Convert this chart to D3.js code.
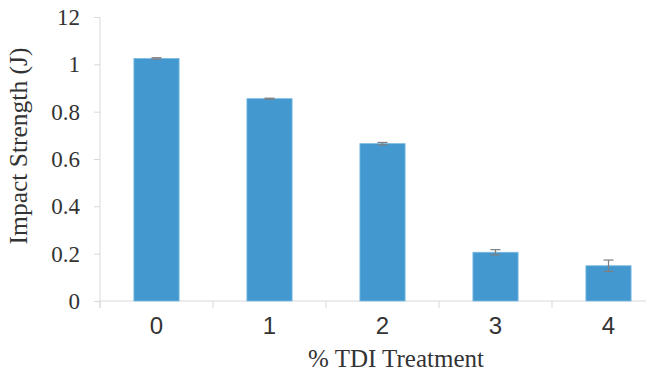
<!DOCTYPE html>
<html>
<head>
<meta charset="utf-8">
<script src="https://cdn.jsdelivr.net/npm/d3@7"></script>
<style>
  body { margin: 0; background: #fff; }
  svg { display: block; }
</style>
</head>
<body>
<div id="chart"></div>
<script>
// data
var categories = ["0", "1", "2", "3", "4"];
var impact = [1.025, 0.855, 0.665, 0.206, 0.149];
var errors = [0.003, 0.002, 0.005, 0.011, 0.024];
var yTicks = [0, 0.2, 0.4, 0.6, 0.8, 1, 1.2];
var yTickLabels = ["0", "0.2", "0.4", "0.6", "0.8", "1", "12"];

var W = 646, H = 374;
var plotLeft = 100, plotTop = 17, plotBottom = 301, plotRight = 665;

var svg = d3.select("#chart")
  .append("svg")
    .attr("width", W)
    .attr("height", H);

var x = d3.scaleBand()
  .domain(categories)
  .range([plotLeft, plotRight])
  .paddingInner(0.6)
  .paddingOuter(0.3);

var y = d3.scaleLinear()
  .domain([0, 1.2])
  .range([plotBottom, plotTop]);

var axisColor = "#d9d9d9";
var serif = "'Liberation Serif', 'Times New Roman', serif";

// y axis
var yAxis = svg.append("g")
  .attr("transform", "translate(" + plotLeft + ",0)")
  .call(d3.axisLeft(y)
    .tickValues(yTicks)
    .tickSize(6)
    .tickPadding(14)
    .tickFormat(function (d, i) { return yTickLabels[i]; }));
yAxis.select(".domain").remove();
yAxis.selectAll("line").attr("stroke", axisColor);
yAxis.append("line")
  .attr("x1", 0).attr("x2", 0)
  .attr("y1", plotTop).attr("y2", plotBottom + 7)
  .attr("stroke", axisColor);
yAxis.selectAll("text")
  .attr("fill", "#333")
  .style("font-family", serif)
  .style("font-size", "23px");

// x axis: labels at band centres, ticks between bands
var xAxis = svg.append("g")
  .attr("transform", "translate(0," + plotBottom + ")")
  .call(d3.axisBottom(x).tickSize(0).tickPadding(16));
xAxis.select(".domain").remove();
xAxis.append("line")
  .attr("x1", plotLeft).attr("x2", plotRight)
  .attr("y1", 0).attr("y2", 0)
  .attr("stroke", axisColor);
xAxis.selectAll(".sep")
  .data(d3.range(categories.length + 1))
  .enter()
  .append("line")
    .attr("class", "sep")
    .attr("x1", function (i) { return plotLeft + i * x.step(); })
    .attr("x2", function (i) { return plotLeft + i * x.step(); })
    .attr("y1", 0).attr("y2", 7)
    .attr("stroke", axisColor);
xAxis.selectAll("text")
  .attr("fill", "#333")
  .attr("dy", "0.71em")
  .style("font-family", "'Liberation Sans', Arial, sans-serif")
  .style("font-size", "24px");

// bars
svg.selectAll(".bar")
  .data(impact)
  .enter()
  .append("rect")
    .attr("class", "bar")
    .attr("x", function (d, i) { return x(categories[i]); })
    .attr("y", function (d) { return y(d); })
    .attr("width", x.bandwidth())
    .attr("height", function (d) { return y(0) - y(d); })
    .attr("fill", "#4399cf")
    .attr("stroke", "#7dbbe3")
    .attr("stroke-width", 0.8);

// error bars
var err = svg.selectAll(".err")
  .data(impact)
  .enter()
  .append("g")
    .attr("class", "err")
    .attr("stroke", "#7f7f7f")
    .attr("stroke-width", 1.2);
err.append("line")
  .attr("x1", function (d, i) { return x(categories[i]) + x.bandwidth() / 2; })
  .attr("x2", function (d, i) { return x(categories[i]) + x.bandwidth() / 2; })
  .attr("y1", function (d, i) { return y(d + errors[i]); })
  .attr("y2", function (d, i) { return y(d - errors[i]); });
[1, -1].forEach(function (s) {
  err.append("line")
    .attr("x1", function (d, i) { return x(categories[i]) + x.bandwidth() / 2 - 5; })
    .attr("x2", function (d, i) { return x(categories[i]) + x.bandwidth() / 2 + 5; })
    .attr("y1", function (d, i) { return y(d + s * errors[i]); })
    .attr("y2", function (d, i) { return y(d + s * errors[i]); });
});

// axis titles
svg.append("text")
  .attr("transform", "translate(27,146) rotate(-90)")
  .attr("text-anchor", "middle")
  .attr("fill", "#333")
  .style("font-family", serif)
  .style("font-size", "25.5px")
  .text("Impact Strength (J)");

svg.append("text")
  .attr("x", 396)
  .attr("y", 367)
  .attr("text-anchor", "middle")
  .attr("fill", "#333")
  .style("font-family", serif)
  .style("font-size", "25px")
  .text("% TDI Treatment");
</script>
</body>
</html>
